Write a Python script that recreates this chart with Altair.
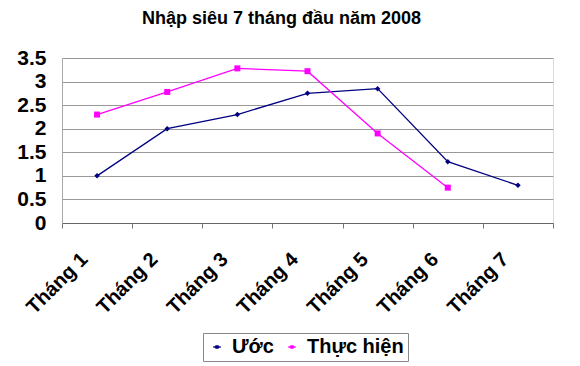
import altair as alt
import pandas as pd

months = ["Tháng 1", "Tháng 2", "Tháng 3", "Tháng 4", "Tháng 5", "Tháng 6", "Tháng 7"]
uoc = [1.0, 2.0, 2.3, 2.75, 2.85, 1.3, 0.8]
thuc_hien = [2.3, 2.78, 3.28, 3.22, 1.9, 0.75, None]
series = ["Ước", "Thực hiện"]
colors = ["#000080", "#ff00ff"]
shapes = ["diamond", "square"]
y_ticks = [0, 0.5, 1, 1.5, 2, 2.5, 3, 3.5]

rows = []
for m, u, t in zip(months, uoc, thuc_hien):
    rows.append({"month": m, "series": "Ước", "value": u})
    if t is not None:
        rows.append({"month": m, "series": "Thực hiện", "value": t})
df = pd.DataFrame(rows)

FONT = "Liberation Sans"

x = alt.X(
    "month:N",
    sort=months,
    scale=alt.Scale(type="band", domain=months, paddingInner=0, paddingOuter=0),
    axis=alt.Axis(
        title=None,
        labelAngle=-45,
        labelAlign="right",
        labelBaseline="middle",
        labelFont=FONT,
        labelFontSize=20,
        labelFontWeight="bold",
        labelColor="black",
        labelPadding=28,
        labelOffset=-13,
        tickBand="extent",
        tickSize=5,
        tickColor="#777",
        domainColor="#666",
        grid=False,
    ),
)
y = alt.Y(
    "value:Q",
    scale=alt.Scale(domain=[0, 3.5], nice=False, zero=True),
    axis=alt.Axis(
        title=None,
        values=y_ticks,
        format=".1~f",
        labelFont=FONT,
        labelFontSize=21,
        labelFontWeight="bold",
        labelColor="black",
        labelPadding=16,
        ticks=False,
        domainColor="#aaa",
        gridColor="#999",
        gridWidth=1,
    ),
)
color = alt.Color(
    "series:N",
    scale=alt.Scale(domain=series, range=colors),
    legend=alt.Legend(
        title=None,
        orient="none",
        legendX=141,
        legendY=275,
        direction="horizontal",
        strokeColor="#888",
        padding=4,
        labelFont=FONT,
        labelFontSize=20,
        labelFontWeight="bold",
        labelColor="black",
        symbolType="M-1,0H1M-0.25,-0.25H0.25V0.25H-0.25Z",
        symbolSize=56,
        symbolStrokeWidth=1.5,
        columnPadding=8,
        labelOffset=5,
    ),
)

lines = alt.Chart(df).mark_line(strokeWidth=1.3).encode(x=x, y=y, color=color)

point_layers = []
for s, c, sh, sz in zip(series, colors, shapes, [30, 36]):
    point_layers.append(
        alt.Chart(df)
        .transform_filter(alt.datum.series == s)
        .mark_point(filled=True, opacity=1, size=sz, color=c, shape=sh)
        .encode(x=x, y=y)
    )

chart = (
    alt.layer(lines, *point_layers)
    .properties(
        width=491,
        height=165,
        autosize=alt.AutoSizeParams(type="none"),
        padding={"left": 54, "top": 50, "right": 19, "bottom": 141},
        title=alt.TitleParams(
            "Nhập siêu 7 tháng đầu năm 2008",
            font=FONT,
            fontSize=18,
            fontWeight="bold",
            color="black",
            anchor="middle",
            dx=-26,
            offset=19,
        ),
    )
    .configure_view(stroke="#aaa")
    .configure(background="white")
)

chart.save("out.html", embed_options={"renderer": "svg", "actions": False})
